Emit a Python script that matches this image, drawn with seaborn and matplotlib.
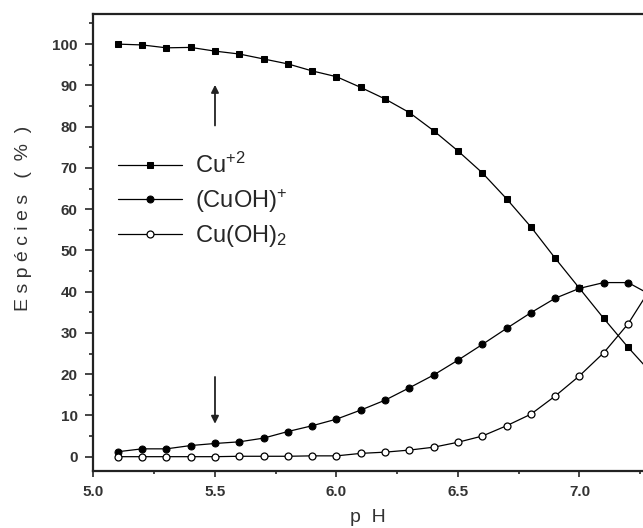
import matplotlib
matplotlib.use("Agg")
import matplotlib.pyplot as plt
import matplotlib.ticker as mticker
import seaborn as sns

# ---- data ----
ph = [5.1, 5.2, 5.3, 5.4, 5.5, 5.6, 5.7, 5.8, 5.9, 6.0, 6.1, 6.2,
      6.3, 6.4, 6.5, 6.6, 6.7, 6.8, 6.9, 7.0, 7.1, 7.2, 7.3]
cu2 = [100.0, 99.8, 99.1, 99.2, 98.3, 97.6, 96.4, 95.2, 93.5, 92.1, 89.5, 86.7,
       83.4, 79.0, 74.1, 68.8, 62.5, 55.7, 48.1, 40.8, 33.5, 26.5, 20.0]
cuoh = [1.2, 1.9, 1.9, 2.7, 3.2, 3.6, 4.5, 6.1, 7.5, 9.1, 11.3, 13.7,
        16.7, 19.8, 23.4, 27.2, 31.1, 34.9, 38.4, 40.8, 42.2, 42.2, 39.0]
cuoh2 = [0.0, 0.0, 0.0, 0.0, 0.0, 0.1, 0.1, 0.1, 0.2, 0.2, 0.8, 1.1,
         1.6, 2.3, 3.5, 5.0, 7.5, 10.3, 14.7, 19.6, 25.2, 32.2, 41.5]
labels = [r"Cu$^{+2}$", r"(CuOH)$^{+}$", r"Cu(OH)$_{2}$"]
x_ticks = [5.0, 5.5, 6.0, 6.5, 7.0]
x_minor = [5.25, 5.75, 6.25, 6.75, 7.25]

sns.set_style("ticks")
plt.rcParams["font.family"] = ["Liberation Sans", "DejaVu Sans"]
plt.rcParams["mathtext.fontset"] = "custom"
plt.rcParams["mathtext.rm"] = "Liberation Sans"
plt.rcParams["mathtext.it"] = "Liberation Sans"

fig = plt.figure(figsize=(6.43, 5.28), dpi=100)
# axes runs past the right edge, like the cropped original
ax = fig.add_axes([0.1454, 0.1085, 0.9448, 0.865])

line_kw = dict(color="black", linewidth=0.9, markersize=5, markeredgecolor="black")
sns.lineplot(x=ph, y=cu2, marker="s", markerfacecolor="black", label=labels[0], ax=ax, **line_kw)
sns.lineplot(x=ph, y=cuoh, marker="o", markerfacecolor="black", label=labels[1], ax=ax, **line_kw)
sns.lineplot(x=ph, y=cuoh2, marker="o", markerfacecolor="white", label=labels[2], ax=ax,
             markeredgewidth=0.9, **line_kw)

# arrows at pH 5.5
arrow_kw = dict(arrowstyle="-|>", color="#222222", lw=1.3, mutation_scale=11)
ax.annotate("", xy=(5.5, 90.8), xytext=(5.5, 79.6), arrowprops=arrow_kw)
ax.annotate("", xy=(5.5, 7.3), xytext=(5.5, 20.0), arrowprops=arrow_kw)

ax.set_xlim(5.0, 7.5)
ax.set_ylim(-3.4, 107.3)
ax.xaxis.set_major_locator(mticker.FixedLocator(x_ticks))
ax.xaxis.set_minor_locator(mticker.FixedLocator(x_minor))
ax.xaxis.set_major_formatter(mticker.FormatStrFormatter("%.1f"))
ax.set_yticks(range(0, 101, 10))
ax.yaxis.set_minor_locator(mticker.FixedLocator(range(-5, 110, 5)))

for s in ax.spines.values():
    s.set_linewidth(1.6)
    s.set_color("#222222")

ax.tick_params(axis="y", which="major", direction="out", length=5.5, width=1.2, pad=6,
               labelsize=11, labelcolor="#333333")
ax.tick_params(axis="y", which="minor", direction="out", length=3, width=1.2)
ax.tick_params(axis="x", which="major", direction="out", length=4, width=1.2, pad=6,
               labelsize=11, labelcolor="#333333")
ax.tick_params(axis="x", which="minor", direction="out", length=2.5, width=1.2)
for t in ax.get_xticklabels() + ax.get_yticklabels():
    t.set_fontweight("bold")

ax.set_ylabel("E s p é c i e s   (  %  )", fontsize=14, color="#333333")
ax.set_xlabel("p  H", fontsize=14, color="#333333")
ax.yaxis.set_label_coords(-0.101, 0.553)
ax.xaxis.set_label_coords(0.452, -0.083)

ax.legend(loc="upper left", bbox_to_anchor=(5.1, 73.6), bbox_transform=ax.transData,
          frameon=False, fontsize=17, handlelength=2.7, handletextpad=0.55,
          labelspacing=0.36, borderpad=0, borderaxespad=0)

plt.savefig("out.png", dpi=100)
plt.close()
